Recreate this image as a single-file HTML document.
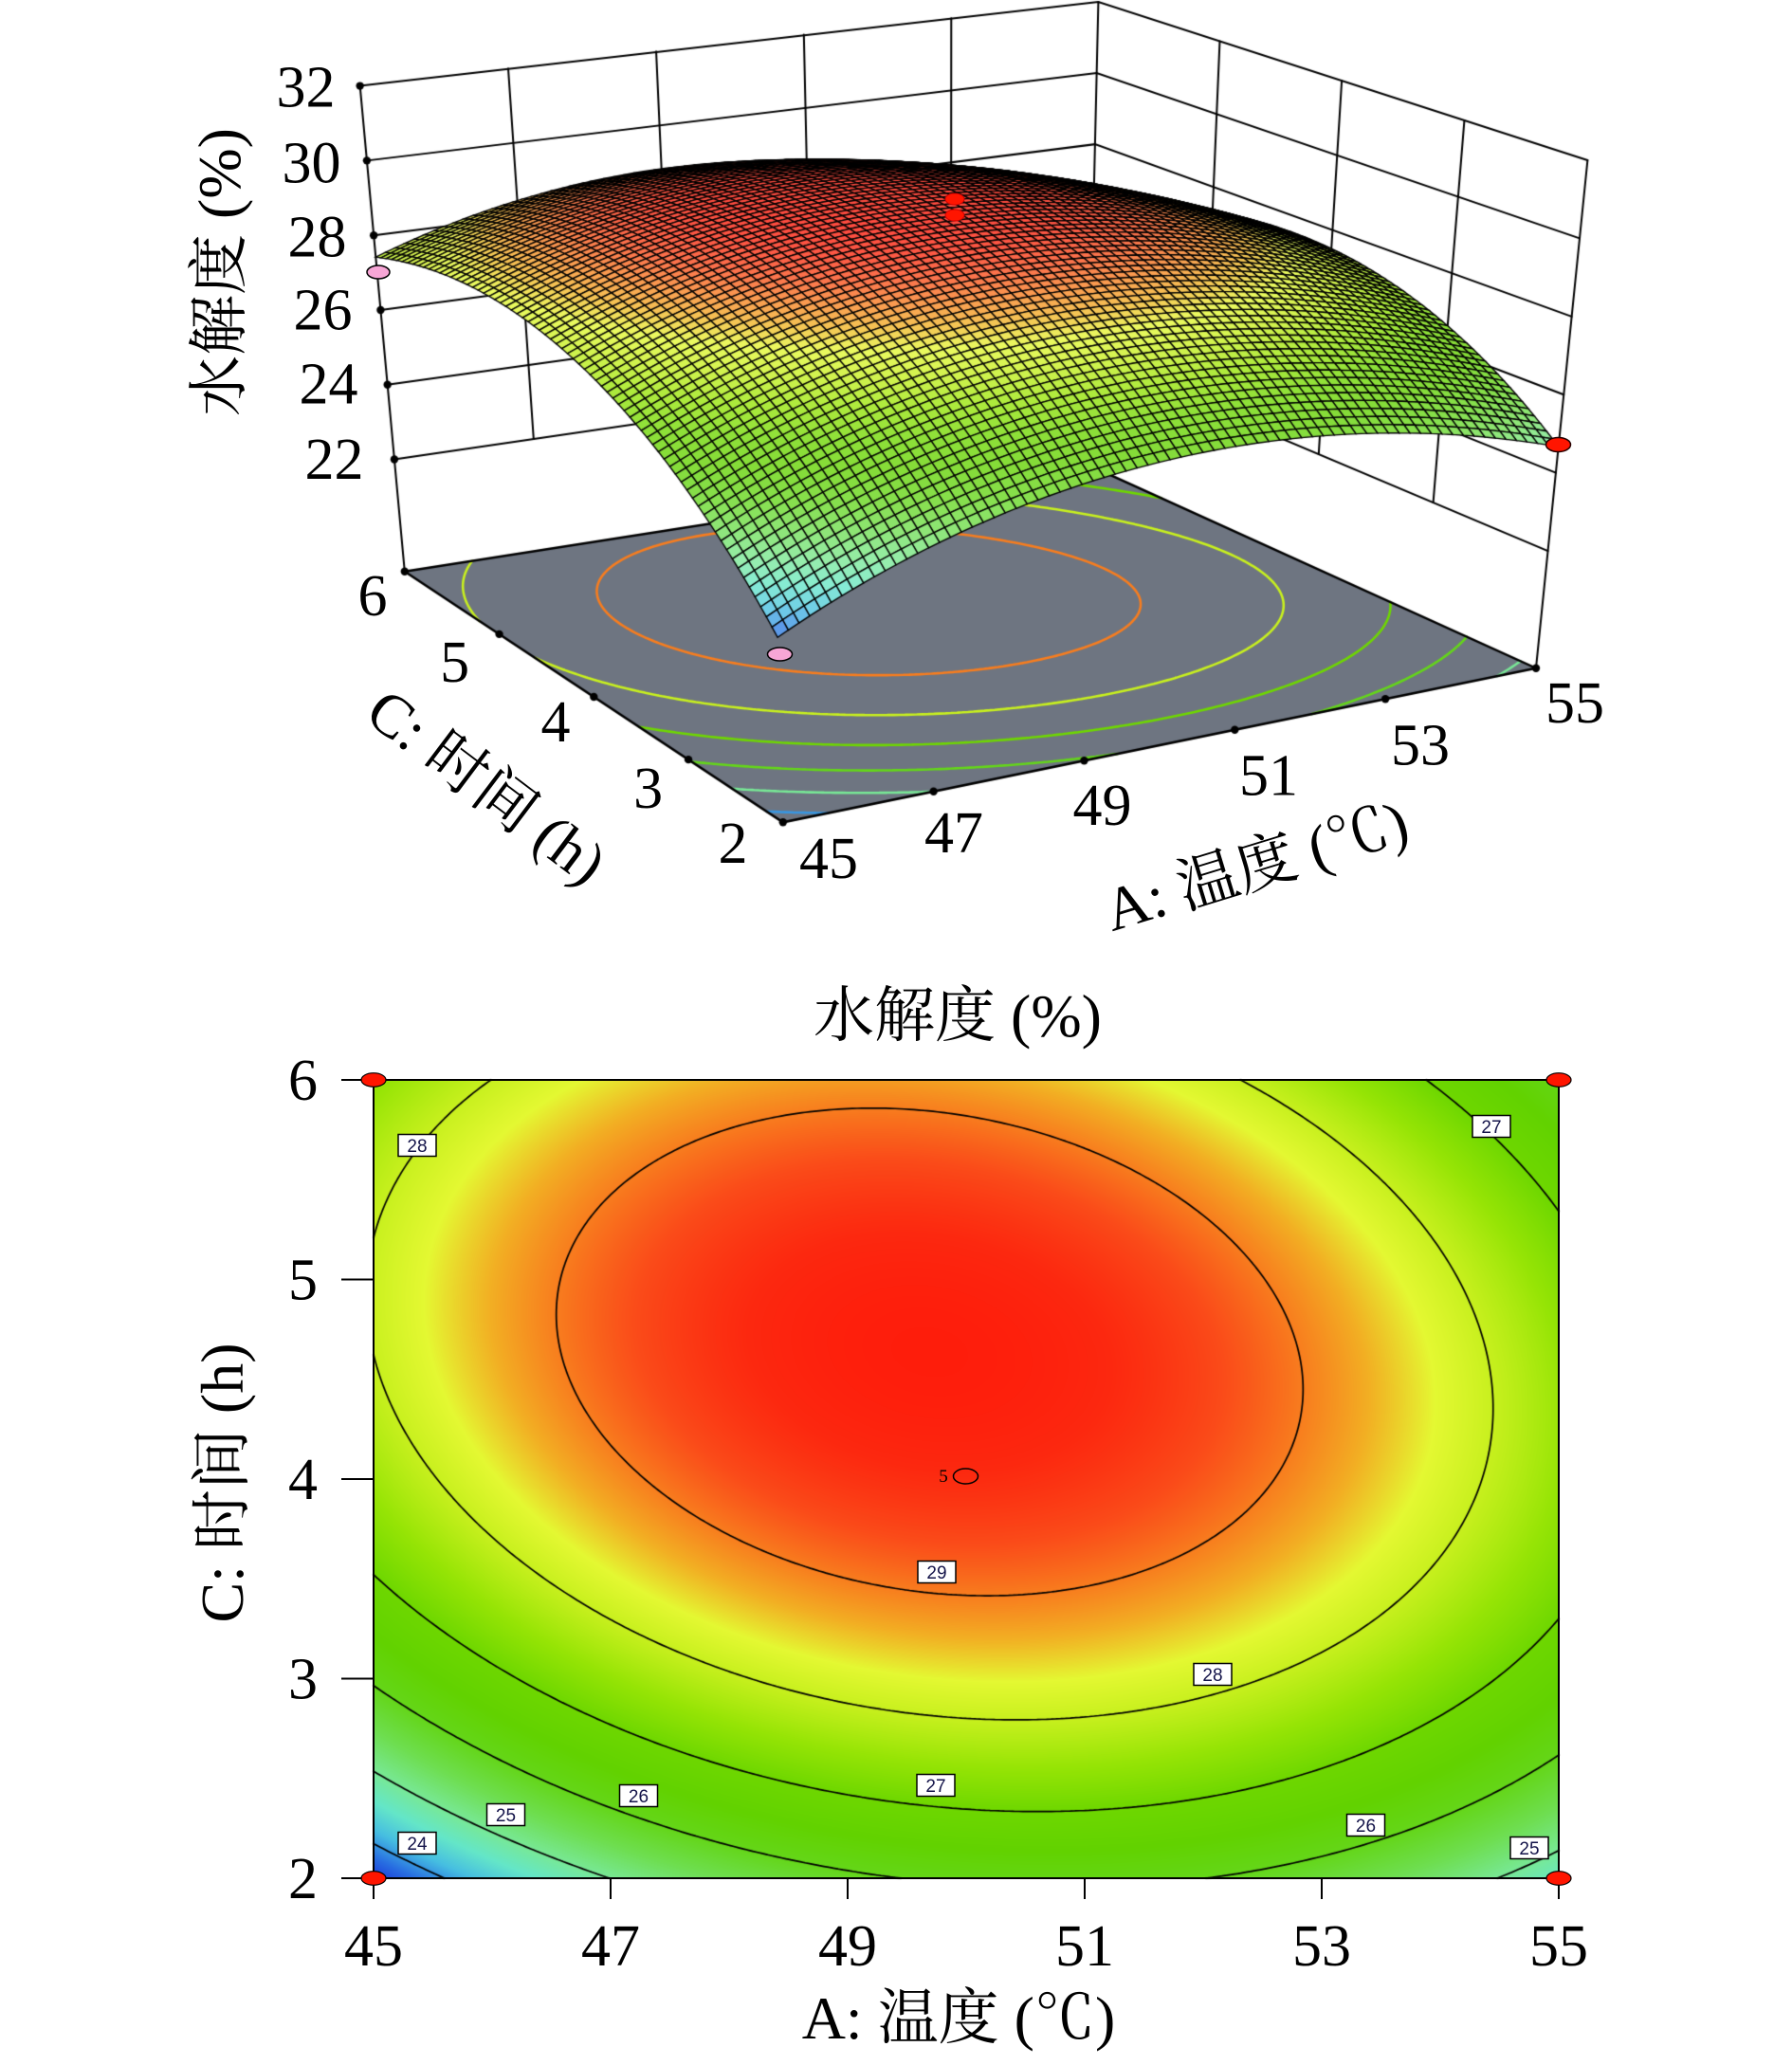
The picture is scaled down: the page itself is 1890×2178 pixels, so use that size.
<!DOCTYPE html>
<html><head><meta charset="utf-8">
<style>
html,body{margin:0;padding:0;background:#fff}
#w{position:relative;width:1890px;height:2178px;overflow:hidden;background:#fff}
canvas,svg{position:absolute;left:0;top:0}
svg text{font-family:"Liberation Serif","Noto Serif CJK SC",serif;fill:#000}
.t{font-size:62px}
.ti{font-size:64px}
.cl{font-family:"Liberation Sans",sans-serif !important;font-size:19px;fill:#14144a !important}
</style></head>
<body><div id="w">
<canvas id="c" width="1890" height="2178"></canvas>
<svg width="1890" height="2178" viewBox="0 0 1890 2178">
<g class="t" text-anchor="middle">
<text x="322.5" y="112.6">32</text>
<text x="328.5" y="192.3">30</text>
<text x="334.5" y="270.7">28</text>
<text x="340.5" y="347.3">26</text>
<text x="346.5" y="425.7">24</text>
<text x="352.5" y="504.8">22</text>
<text x="393" y="649">6</text>
<text x="479.6" y="719">5</text>
<text x="586" y="782">4</text>
<text x="683.6" y="852">3</text>
<text x="773" y="910">2</text>
<text x="874" y="926">45</text>
<text x="1006" y="899">47</text>
<text x="1162.5" y="870">49</text>
<text x="1338" y="838.5">51</text>
<text x="1498" y="806.5">53</text>
<text x="1661" y="762">55</text>
</g>
<g class="ti" text-anchor="middle">
<text transform="translate(232,287) rotate(-90)" x="0" y="21">水解度 (%)</text>
<text transform="translate(513,830) rotate(37)" x="0" y="21">C: 时间 (h)</text>
<text transform="translate(1325,914) rotate(-17)" x="0" y="21">A: 温度 (℃)</text>
</g>
<ellipse cx="399" cy="287" rx="12" ry="7" fill="#f7a6d6" stroke="#000" stroke-width="1.5"/>
<ellipse cx="822.5" cy="690" rx="13" ry="7" fill="#f7a6d6" stroke="#000" stroke-width="1.5"/>
<ellipse cx="1007" cy="210" rx="10" ry="6" fill="#ff1500" stroke="#c00" stroke-width="1"/>
<ellipse cx="1007" cy="227" rx="10" ry="6" fill="#ff1500" stroke="#c00" stroke-width="1"/>
<ellipse cx="1643.5" cy="469" rx="13" ry="7.5" fill="#ff1500" stroke="#200" stroke-width="1.5"/>

<text class="ti" x="1010" y="1093" text-anchor="middle">水解度 (%)</text>
<rect x="394" y="1139" width="1250" height="842" fill="none" stroke="#000" stroke-width="2"/>
<g stroke="#000" stroke-width="2">
<line x1="360" y1="1139" x2="394" y2="1139"/>
<line x1="360" y1="1349.5" x2="394" y2="1349.5"/>
<line x1="360" y1="1560" x2="394" y2="1560"/>
<line x1="360" y1="1770.5" x2="394" y2="1770.5"/>
<line x1="360" y1="1981" x2="394" y2="1981"/>
<line x1="394" y1="1981" x2="394" y2="2003"/>
<line x1="644" y1="1981" x2="644" y2="2003"/>
<line x1="894" y1="1981" x2="894" y2="2003"/>
<line x1="1144" y1="1981" x2="1144" y2="2003"/>
<line x1="1394" y1="1981" x2="1394" y2="2003"/>
<line x1="1644" y1="1981" x2="1644" y2="2003"/>
</g>
<g class="t" text-anchor="end">
<text x="335" y="1160">6</text>
<text x="335" y="1370.5">5</text>
<text x="335" y="1581">4</text>
<text x="335" y="1791.5">3</text>
<text x="335" y="2002">2</text>
</g>
<g class="t" text-anchor="middle">
<text x="394" y="2073">45</text>
<text x="644" y="2073">47</text>
<text x="894" y="2073">49</text>
<text x="1144" y="2073">51</text>
<text x="1394" y="2073">53</text>
<text x="1644" y="2073">55</text>
</g>
<text class="ti" x="1011" y="2150" text-anchor="middle">A: 温度 (℃)</text>
<text class="ti" transform="translate(236,1564) rotate(-90)" x="0" y="20" text-anchor="middle">C: 时间 (h)</text>

<g>
<rect x="420" y="1196.5" width="40" height="23" fill="#fff" stroke="#000" stroke-width="1.5"/><text class="cl" x="440" y="1215" text-anchor="middle">28</text>
<rect x="968" y="1646.5" width="40" height="23" fill="#fff" stroke="#000" stroke-width="1.5"/><text class="cl" x="988" y="1665" text-anchor="middle">29</text>
<rect x="967" y="1871.5" width="40" height="23" fill="#fff" stroke="#000" stroke-width="1.5"/><text class="cl" x="987" y="1890" text-anchor="middle">27</text>
<rect x="653.5" y="1882.5" width="40" height="23" fill="#fff" stroke="#000" stroke-width="1.5"/><text class="cl" x="673.5" y="1901" text-anchor="middle">26</text>
<rect x="513.5" y="1902.5" width="40" height="23" fill="#fff" stroke="#000" stroke-width="1.5"/><text class="cl" x="533.5" y="1921" text-anchor="middle">25</text>
<rect x="420" y="1932.5" width="40" height="23" fill="#fff" stroke="#000" stroke-width="1.5"/><text class="cl" x="440" y="1951" text-anchor="middle">24</text>
<rect x="1553" y="1176.5" width="40" height="23" fill="#fff" stroke="#000" stroke-width="1.5"/><text class="cl" x="1573" y="1195" text-anchor="middle">27</text>
<rect x="1259" y="1754.5" width="40" height="23" fill="#fff" stroke="#000" stroke-width="1.5"/><text class="cl" x="1279" y="1773" text-anchor="middle">28</text>
<rect x="1420.5" y="1913.5" width="40" height="23" fill="#fff" stroke="#000" stroke-width="1.5"/><text class="cl" x="1440.5" y="1932" text-anchor="middle">26</text>
<rect x="1593" y="1937.5" width="40" height="23" fill="#fff" stroke="#000" stroke-width="1.5"/><text class="cl" x="1613" y="1956" text-anchor="middle">25</text>
</g>
<ellipse cx="1018.5" cy="1557" rx="13" ry="8" fill="none" stroke="#000" stroke-width="1.5"/>
<text x="995" y="1563" text-anchor="middle" style="font-size:19px">5</text>
<g fill="#ff1500" stroke="#000" stroke-width="1.2">
<ellipse cx="394" cy="1139" rx="13" ry="7.3"/>
<ellipse cx="394" cy="1981" rx="13" ry="7.3"/>
<ellipse cx="1644" cy="1139" rx="13" ry="7.3"/>
<ellipse cx="1644" cy="1981" rx="13" ry="7.3"/>
</g>
</svg>
</div>
<script>
(function(){
const cv=document.getElementById('c');
const ctx=cv.getContext('2d');
function Y(A,C){const u=(A-50)/5,v=(C-4)/2;return 29.57-0.045*u+1.33*v-0.64*u*v-2.02*u*u-2.15*v*v;}
const ST=[[23.4,25,45,215],[23.8,40,110,225],[24.2,70,190,225],[24.6,100,230,200],[25.0,120,232,150],[25.5,110,222,80],[26.0,100,214,25],[26.5,98,210,0],[27.0,110,215,0],[27.5,150,228,5],[28.0,200,240,30],[28.35,228,248,50],[28.7,242,175,35],[29.0,248,125,30],[29.3,250,75,25],[29.6,252,40,15],[29.85,255,25,10]];
function cmap(y){
  if(y<=ST[0][0])return [ST[0][1],ST[0][2],ST[0][3]];
  for(let k=1;k<ST.length;k++){if(y<=ST[k][0]){const a=ST[k-1],b=ST[k],t=(y-a[0])/(b[0]-a[0]);return [a[1]+(b[1]-a[1])*t,a[2]+(b[2]-a[2])*t,a[3]+(b[3]-a[3])*t];}}
  const l=ST[ST.length-1];return [l[1],l[2],l[3]];
}
function c3(y){const c=cmap(y+0.25);const m=0.22;return [c[0]+(255-c[0])*m,c[1]+(255-c[1])*m,c[2]+(255-c[2])*m];}
function rgb(c){return 'rgb('+Math.round(c[0])+','+Math.round(c[1])+','+Math.round(c[2])+')';}
const VP=[999,6822];
function P3(A,C,z){
  const s=(A-45)/10,t=(C-2)/4;
  const w1=(1-s)*(1-t),w2=s*(1-t),w3=(1-s)*t,w4=s*t;
  const fx=w1*825.8+w2*1620+w3*426.8+w4*1147;
  const fy=w1*867.3+w2*704.7+w3*602.7+w4*490;
  const k=w1*43.6+w2*41.42+w3*39.56+w4*37.55;
  let dx=fx-VP[0],dy=fy-VP[1];const L=Math.hypot(dx,dy);dx/=L;dy/=L;
  const h=(z-19)*k;
  return [fx+dx*h,fy+dy*h];
}
function contour(f,a0,a1,c0,c1,nx,ny,level,cb){
  const vals=[];
  for(let j=0;j<=ny;j++){const r=[];for(let i=0;i<=nx;i++)r.push(f(a0+(a1-a0)*i/nx,c0+(c1-c0)*j/ny)-level);vals.push(r);}
  for(let j=0;j<ny;j++)for(let i=0;i<nx;i++){
    const A0=a0+(a1-a0)*i/nx,A1=a0+(a1-a0)*(i+1)/nx,C0=c0+(c1-c0)*j/ny,C1=c0+(c1-c0)*(j+1)/ny;
    const v00=vals[j][i],v10=vals[j][i+1],v01=vals[j+1][i],v11=vals[j+1][i+1];
    const p=[];
    function e(va,vb,pa,pb){if((va<0)!==(vb<0)){const t=va/(va-vb);p.push([pa[0]+(pb[0]-pa[0])*t,pa[1]+(pb[1]-pa[1])*t]);}}
    e(v00,v10,[A0,C0],[A1,C0]);e(v10,v11,[A1,C0],[A1,C1]);e(v11,v01,[A1,C1],[A0,C1]);e(v01,v00,[A0,C1],[A0,C0]);
    if(p.length>=2)cb(p[0],p[1]);
    if(p.length===4)cb(p[2],p[3]);
  }
}
function line(pts){ctx.beginPath();ctx.moveTo(pts[0][0],pts[0][1]);for(let i=1;i<pts.length;i++)ctx.lineTo(pts[i][0],pts[i][1]);ctx.stroke();}

ctx.strokeStyle='#000';ctx.lineWidth=2;ctx.lineCap='round';
for(let z=22;z<=32;z+=2){line([P3(45,6,z),P3(55,6,z),P3(55,2,z)]);}
for(const A of [47,49,51,53])line([P3(A,6,22),P3(A,6,32)]);
for(const C of [3,4,5])line([P3(55,C,22),P3(55,C,32)]);
line([P3(55,6,19),P3(55,6,32)]);
line([P3(55,2,19),P3(55,2,32)]);
line([P3(45,6,19),P3(45,6,32)]);
const fl=[P3(45,6,19),P3(55,6,19),P3(55,2,19),P3(45,2,19)];
ctx.beginPath();ctx.moveTo(fl[0][0],fl[0][1]);for(let i=1;i<4;i++)ctx.lineTo(fl[i][0],fl[i][1]);ctx.closePath();
ctx.fillStyle='#6e7581';ctx.fill();
for(const lv of [24,25,26,27,28,29]){
  ctx.strokeStyle=rgb(cmap(lv));ctx.lineWidth=2.6;ctx.beginPath();
  contour(Y,45,55,2,6,160,120,lv,function(p,q){const a=P3(p[0],p[1],19),b=P3(q[0],q[1],19);ctx.moveTo(a[0],a[1]);ctx.lineTo(b[0],b[1]);});
  ctx.stroke();
}
ctx.strokeStyle='#000';ctx.lineWidth=2.5;
ctx.beginPath();ctx.moveTo(fl[0][0],fl[0][1]);for(let i=1;i<4;i++)ctx.lineTo(fl[i][0],fl[i][1]);ctx.closePath();ctx.stroke();
ctx.fillStyle='#000';
function dot(p){ctx.beginPath();ctx.arc(p[0],p[1],4.2,0,Math.PI*2);ctx.fill();}
for(let z=22;z<=32;z+=2)dot(P3(45,6,z));
for(const C of [2,3,4,5,6])dot(P3(45,C,19));
for(const A of [47,49,51,53,55])dot(P3(A,2,19));
const N=72;
const G=[];
for(let j=0;j<=N;j++){const r=[];for(let i=0;i<=N;i++){const A=45+10*i/N,C=2+4*j/N;r.push(P3(A,C,Y(A,C)));}G.push(r);}
ctx.lineWidth=1.35;ctx.strokeStyle='#000';ctx.lineJoin='miter';
for(let j=N-1;j>=0;j--)for(let i=N-1;i>=0;i--){
  const a=G[j][i],b=G[j][i+1],c=G[j+1][i+1],d=G[j+1][i];
  const A=45+10*(i+0.5)/N,C=2+4*(j+0.5)/N;
  ctx.beginPath();ctx.moveTo(a[0],a[1]);ctx.lineTo(b[0],b[1]);ctx.lineTo(c[0],c[1]);ctx.lineTo(d[0],d[1]);ctx.closePath();
  ctx.fillStyle=rgb(c3(Y(A,C)));ctx.fill();ctx.stroke();
}

const X0=394,X1=1644,Y0=1139,Y1=1981,W=X1-X0,H=Y1-Y0;
const img=ctx.createImageData(W,H);
for(let py=0;py<H;py++){const C=6-4*(py+0.5)/H;
  for(let px=0;px<W;px++){const A=45+10*(px+0.5)/W;const c=cmap(Y(A,C));const o=(py*W+px)*4;
    img.data[o]=c[0];img.data[o+1]=c[1];img.data[o+2]=c[2];img.data[o+3]=255;}}
ctx.putImageData(img,X0,Y0);
ctx.strokeStyle='#000';ctx.lineWidth=1.7;
for(const lv of [24,25,26,27,28,29]){
  ctx.beginPath();
  contour(Y,45,55,2,6,250,170,lv,function(p,q){
    const ax=X0+(p[0]-45)*125,ay=Y1-(p[1]-2)*H/4,bx=X0+(q[0]-45)*125,by=Y1-(q[1]-2)*H/4;
    ctx.moveTo(ax,ay);ctx.lineTo(bx,by);});
  ctx.stroke();
}
})();
</script>
</body></html>
